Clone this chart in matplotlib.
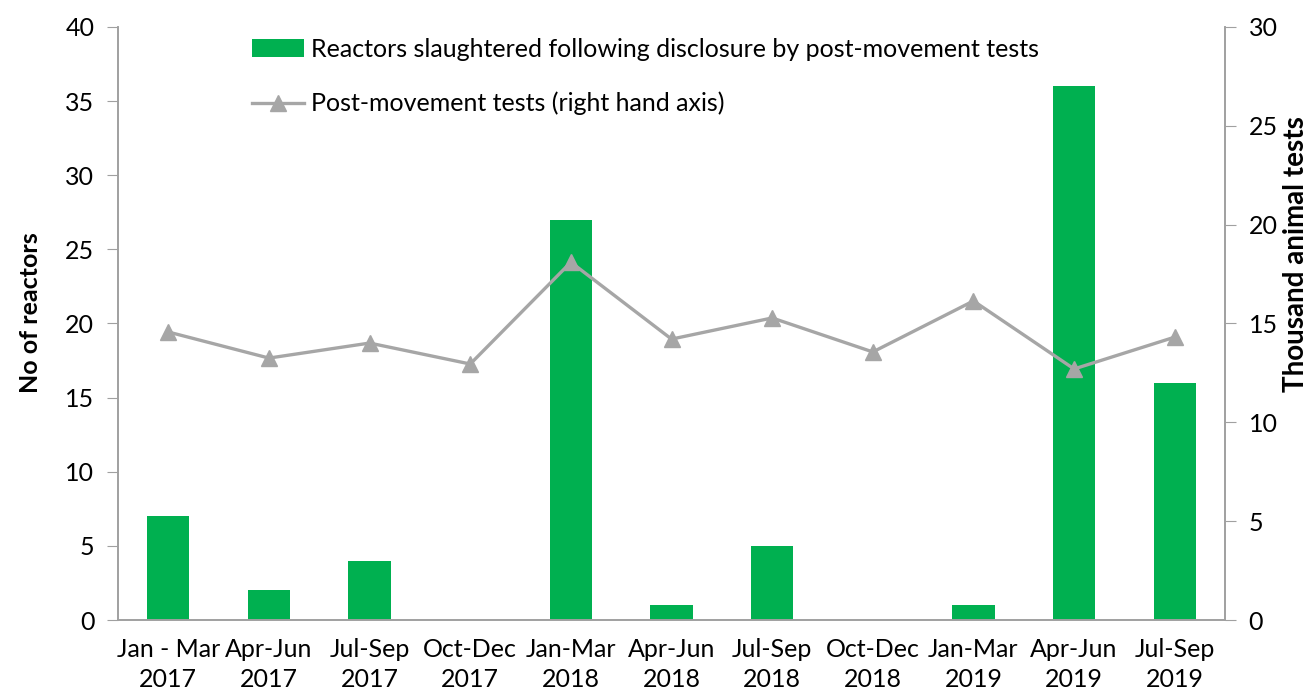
import matplotlib
matplotlib.use("Agg")
from matplotlib import pyplot as plt
import numpy as np

plt.rcParams['font.family'] = ['Lato', 'DejaVu Sans']

quarters = ["Jan - Mar\n2017", "Apr-Jun\n2017", "Jul-Sep\n2017", "Oct-Dec\n2017",
            "Jan-Mar\n2018", "Apr-Jun\n2018", "Jul-Sep\n2018", "Oct-Dec\n2018",
            "Jan-Mar\n2019", "Apr-Jun\n2019", "Jul-Sep\n2019"]
reactors = [7, 2, 4, 0, 27, 1, 5, 0, 1, 36, 16]
tests_thousand = [14.57, 13.25, 14.01, 12.95, 18.1, 14.21, 15.28, 13.56, 16.14, 12.70, 14.31]

green = "#00b050"
grey = "#a6a6a6"
spine_col = "#a0a0a0"

fig = plt.figure(figsize=(13.08, 6.95), dpi=100)
ax = fig.add_axes([0.0902, 0.1079, 0.8464, 0.8533])
x = np.arange(len(quarters))

bars = ax.bar(x, reactors, width=0.42, color=green,
              label="Reactors slaughtered following disclosure by post-movement tests")
ax.set_xlim(-0.5, len(quarters) - 0.5)
ax.set_ylim(0, 40)
ax.set_yticks(range(0, 41, 5))
ax.set_xticks(x)
ax.set_xticklabels(quarters, fontsize=18, linespacing=1.35)
ax.tick_params(axis="x", length=0, pad=13)
ax.tick_params(axis="y", labelsize=18, length=8, color=spine_col, pad=9)
ax.set_ylabel("No of reactors", fontsize=18, fontweight="bold")
ax.yaxis.set_label_coords(-0.0687, 0.518)

ax2 = ax.twinx()
line, = ax2.plot(x, tests_thousand, color=grey, linewidth=2.4, marker="^",
                 markersize=11, label="Post-movement tests (right hand axis)")
ax2.set_ylim(0, 30)
ax2.set_yticks(range(0, 31, 5))
ax2.tick_params(axis="y", labelsize=18, length=8, color=spine_col, pad=9)
ax2.set_ylabel("Thousand animal tests", fontsize=20, fontweight="bold")
ax2.yaxis.set_label_coords(1.052, 0.617)

for a in (ax, ax2):
    a.spines["top"].set_visible(False)
    for s in ("left", "right", "bottom"):
        a.spines[s].set_color(spine_col)
        a.spines[s].set_linewidth(1.2)

ax.legend(handles=[bars, line], loc="upper left", bbox_to_anchor=(0.121, 0.982),
          frameon=False, fontsize=18, handlelength=2.1, handletextpad=0.25,
          labelspacing=1.25, borderpad=0, borderaxespad=0)

fig.savefig("out.png", dpi=100)
